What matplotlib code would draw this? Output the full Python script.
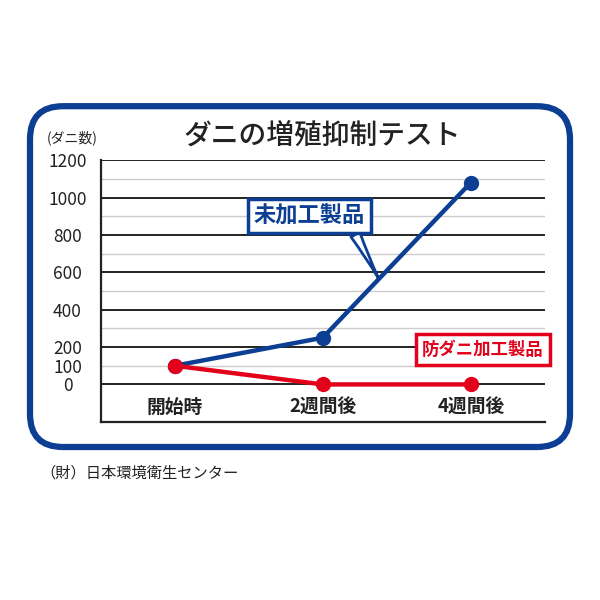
import matplotlib.pyplot as plt
from matplotlib.patches import FancyBboxPatch

plt.rcParams['font.family'] = ['Noto Sans CJK JP', 'DejaVu Sans']

stages = ["開始時", "2週間後", "4週間後"]
untreated = [100, 250, 1080]
treated = [100, 0, 0]
ytick_vals = [0, 100, 200, 400, 600, 800, 1000, 1200]
major_lines = [0, 200, 400, 600, 800, 1000, 1200]
minor_lines = [100, 300, 500, 700, 900, 1100]

blue = "#0c3f94"
red = "#e3001b"

fig = plt.figure(figsize=(6, 6), dpi=100)

frame = FancyBboxPatch((0.05, 0.255), 0.9, 0.568,
                       boxstyle="round,pad=0,rounding_size=0.055",
                       transform=fig.transFigure, fc="none", ec=blue, lw=4.5,
                       zorder=-1)
fig.patches.append(frame)

ax = fig.add_axes([0.168, 0.297, 0.74, 0.436])
ax.patch.set_alpha(0)
ax.set_xlim(-0.5, 2.5)
ax.set_ylim(-200, 1200)

for y in minor_lines:
    ax.axhline(y, color="#cccccc", lw=1.0, zorder=1)
for y in major_lines:
    ax.axhline(y, color="#222222", lw=1.4, zorder=1)

for s in ["top", "right"]:
    ax.spines[s].set_visible(False)
ax.spines["left"].set_linewidth(1.6)
ax.spines["bottom"].set_linewidth(1.6)
ax.spines["left"].set_color("#222222")
ax.spines["bottom"].set_color("#222222")

x = range(len(stages))
ax.plot(x, untreated, color=blue, lw=3.2, marker="o", ms=10, zorder=3)
ax.plot(x, treated, color=red, lw=3.2, marker="o", ms=10, zorder=4)

ax.set_xticks([])
ax.set_yticks(ytick_vals)
ax.set_yticklabels([str(v) for v in ytick_vals], ha="center", fontsize=12.5,
                   color="#222222")
ax.tick_params(axis="y", length=0, pad=24)

for i, lab in enumerate(stages):
    ax.text(i, -125, lab, ha="center", va="center", fontsize=13.5,
            fontweight="bold", color="#222222")

ax.annotate("未加工製品", xy=(1.375, 570), xytext=(0.91, 900),
            ha="center", va="center", fontsize=16, fontweight="bold", color=blue,
            bbox=dict(boxstyle="square,pad=0.25", fc="white", ec=blue, lw=2.5),
            arrowprops=dict(arrowstyle="wedge,tail_width=0.45,shrink_factor=0.4",
                            fc="white", ec=blue, lw=2, relpos=(0.88, 0),
                            shrinkA=0, shrinkB=0),
            zorder=5)

ax.text(2.08, 187, "防ダニ加工製品", ha="center", va="center", fontsize=12.5,
        fontweight="bold", color=red,
        bbox=dict(boxstyle="square,pad=0.35", fc="white", ec=red, lw=2.5),
        zorder=5)

fig.text(0.537, 0.774, "ダニの増殖抑制テスト", ha="center", va="center",
         fontsize=20, fontweight="medium", color="#222222")
fig.text(0.12, 0.77, "(ダニ数)", ha="center", va="center", fontsize=10,
         color="#222222")
fig.text(0.068, 0.212, "（財）日本環境衛生センター", ha="left", va="center",
         fontsize=11, color="#222222")

fig.savefig("out.png", dpi=100)
